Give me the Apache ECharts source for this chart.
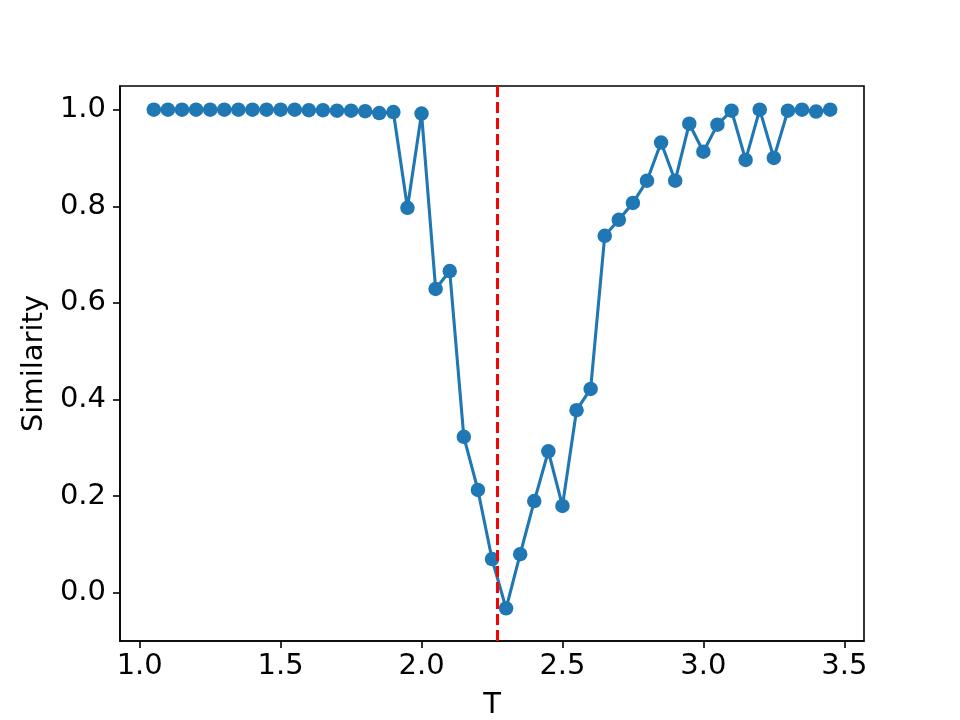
<!DOCTYPE html>
<html>
<head>
<meta charset="utf-8">
<script src="https://cdn.jsdelivr.net/npm/echarts@6/dist/echarts.min.js"></script>
<style>html,body{margin:0;padding:0;background:#fff}#c{width:960px;height:720px}</style>
</head>
<body>
<div id="c"></div>
<script>
const temperatures = [1.05,1.10,1.15,1.20,1.25,1.30,1.35,1.40,1.45,1.50,1.55,1.60,1.65,1.70,1.75,1.80,1.85,1.90,1.95,2.00,2.05,2.10,2.15,2.20,2.25,2.30,2.35,2.40,2.45,2.50,2.55,2.60,2.65,2.70,2.75,2.80,2.85,2.90,2.95,3.00,3.05,3.10,3.15,3.20,3.25,3.30,3.35,3.40,3.45];
const similarity = [1.0,1.0,1.0,1.0,1.0,1.0,1.0,1.0,1.0,1.0,1.0,0.999,0.999,0.998,0.998,0.997,0.993,0.995,0.797,0.992,0.629,0.666,0.323,0.213,0.070,-0.032,0.080,0.190,0.293,0.180,0.378,0.422,0.739,0.772,0.807,0.853,0.932,0.853,0.971,0.913,0.969,0.998,0.896,1.0,0.900,0.998,1.0,0.996,1.0];
const criticalT = 2.269;
const xTicks = [1.0,1.5,2.0,2.5,3.0,3.5];
const yTicks = [0.0,0.2,0.4,0.6,0.8,1.0];

const font = 'DejaVu Sans';
const chart = echarts.init(document.getElementById('c'));
chart.setOption({
  animation: false,
  backgroundColor: '#fff',
  grid: {left: 120, right: 96, top: 86, bottom: 79, containLabel: false, outerBoundsMode: 'none', show: true, borderColor: '#000', borderWidth: 1.6, backgroundColor: 'transparent'},
  xAxis: {
    type: 'value', min: 0.93, max: 3.57,
    name: 'T', nameLocation: 'middle', nameGap: 50,
    nameTextStyle: {fontFamily: font, fontSize: 29, color: '#000'},
    axisLine: {show: true, onZero: false, lineStyle: {color: '#000', width: 1.6}},
    axisTick: {show: true, length: 7, lineStyle: {color: '#000', width: 1.6}, customValues: xTicks},
    axisLabel: {fontFamily: font, fontSize: 29, color: '#000', margin: 11, customValues: xTicks, formatter: v => v.toFixed(1)},
    splitLine: {show: false}
  },
  yAxis: {
    type: 'value', min: -0.0996, max: 1.049,
    name: 'Similarity', nameLocation: 'middle', nameGap: 70, nameRotate: 90,
    nameTextStyle: {fontFamily: font, fontSize: 29, color: '#000'},
    axisLine: {show: true, onZero: false, lineStyle: {color: '#000', width: 1.6}},
    axisTick: {show: true, length: 7, lineStyle: {color: '#000', width: 1.6}, customValues: yTicks},
    axisLabel: {fontFamily: font, fontSize: 29, color: '#000', margin: 14, customValues: yTicks, formatter: v => v.toFixed(1)},
    splitLine: {show: false}
  },
  series: [
    {
      type: 'line',
      data: temperatures.map((t, i) => [t, similarity[i]]),
      symbol: 'circle', symbolSize: 14.5,
      itemStyle: {color: '#1f77b4'},
      lineStyle: {color: '#1f77b4', width: 3.1},
      z: 2
    },
    {
      type: 'line',
      data: [],
      z: 5,
      markLine: {
        silent: true, symbol: 'none', animation: false,
        label: {show: false},
        lineStyle: {color: '#ff0000', width: 3, type: [11, 5]},
        data: [{xAxis: criticalT}]
      }
    }
  ]
});
</script>
</body>
</html>
